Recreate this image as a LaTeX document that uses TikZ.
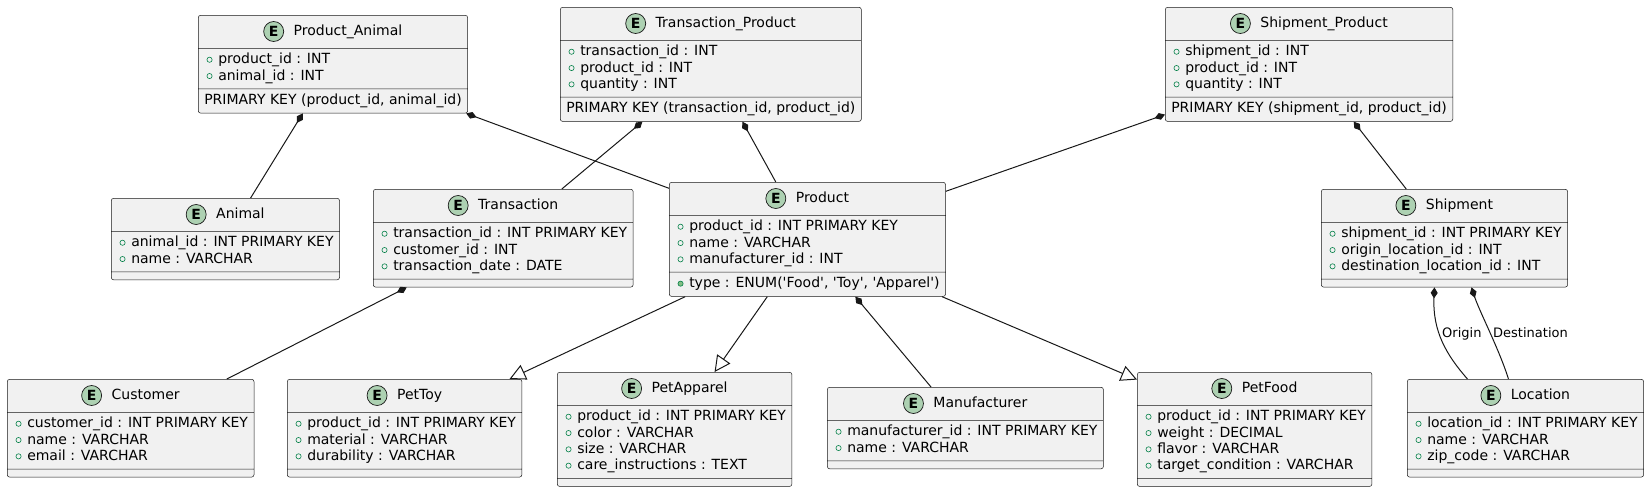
\documentclass[tikz,border=0pt]{standalone}
\usepackage{fontspec}
\newfontfamily\umlfont{DejaVu Sans}
\usepackage{tikz}
\usetikzlibrary{shapes.multipart,arrows.meta}

\definecolor{boxfill}{HTML}{F1F1F1}
\definecolor{boxline}{HTML}{181818}
\definecolor{iconfill}{HTML}{ADD1B2}
\definecolor{fieldgreen}{HTML}{038048}
\definecolor{methodfill}{HTML}{84BE84}

% one row of an entity: strut, then marker
\newcommand{\pk}{\rule[-4.8pt]{0pt}{16.3pt}}
\newcommand{\fld}{\pk\makebox[14pt][l]{\hspace{2.4pt}\tikz[baseline=-4pt]\draw[fieldgreen,line width=0.6pt] (0,0) circle (2.6pt);}}
\newcommand{\mth}{\pk\makebox[14pt][l]{\hspace{2.4pt}\tikz[baseline=-4pt]\filldraw[draw=fieldgreen,fill=methodfill,line width=0.6pt] (0,0) circle (2.6pt);}}
\newcommand{\ttl}[1]{\rule[-8.75pt]{0pt}{25pt}\hspace{30pt}#1}
\newcommand{\nomembers}{\rule{1pt}{0pt}}

\begin{document}
\begin{tikzpicture}[x=1pt,y=-1pt,
    entity/.style={rectangle split, rectangle split parts=3,
        rectangle split part align={center,left,left},
        rectangle split empty part height=0pt, rectangle split empty part depth=0pt,
        draw=boxline, line width=0.5pt, fill=boxfill, rounded corners=2.5pt,
        inner xsep=6pt, inner ysep=3.75pt, align=left, anchor=north west,
        font=\umlfont\fontsize{14}{16.3}\selectfont},
    eicon/.style={circle, draw=boxline, fill=iconfill, line width=0.7pt,
        minimum size=20pt, inner sep=0pt, font=\umlfont\bfseries\fontsize{14}{14}\selectfont},
    comp/.style={draw=boxline, line width=1pt, {Diamond[length=11pt,width=7pt]}-},
    gen/.style={draw=boxline, line width=1pt, -{Triangle[open,length=16pt,width=16pt]}},
    lbl/.style={font=\umlfont\fontsize{13}{15}\selectfont, inner sep=0pt, anchor=base west}]
    \useasboundingbox (0,0) rectangle (1647,490);

    %Entity: Product_Animal
    \node[entity] (productanimal) at (198,15) {\ttl{Product\_Animal}%
        \nodepart{two}\fld product\_id : INT\\\fld animal\_id : INT%
        \nodepart{three}\pk PRIMARY KEY (product\_id, animal\_id)};
    \node[eicon] (productanimal-e) at ([xshift=10pt,yshift=4pt]productanimal.one) {E};

    %Entity: Transaction_Product
    \node[entity] (transactionproduct) at (560,7) {\ttl{Transaction\_Product}%
        \nodepart{two}\fld transaction\_id : INT\\\fld product\_id : INT\\\fld quantity : INT%
        \nodepart{three}\pk PRIMARY KEY (transaction\_id, product\_id)};
    \node[eicon] (transactionproduct-e) at ([xshift=10pt,yshift=4pt]transactionproduct.one) {E};

    %Entity: Shipment_Product
    \node[entity] (shipmentproduct) at (1165,7) {\ttl{Shipment\_Product}%
        \nodepart{two}\fld shipment\_id : INT\\\fld product\_id : INT\\\fld quantity : INT%
        \nodepart{three}\pk PRIMARY KEY (shipment\_id, product\_id)};
    \node[eicon] (shipmentproduct-e) at ([xshift=10pt,yshift=4pt]shipmentproduct.one) {E};

    %Entity: Animal
    \node[entity] (animal) at (111,198) {\ttl{Animal}%
        \nodepart{two}\fld animal\_id : INT PRIMARY KEY\\\fld name : VARCHAR%
        \nodepart{three}\nomembers};
    \node[eicon] (animal-e) at ([xshift=10pt,yshift=4pt]animal.one) {E};

    %Entity: Transaction
    \node[entity] (transaction) at (373,189) {\ttl{Transaction}%
        \nodepart{two}\fld transaction\_id : INT PRIMARY KEY\\\fld customer\_id : INT\\\fld transaction\_date : DATE%
        \nodepart{three}\nomembers};
    \node[eicon] (transaction-e) at ([xshift=10pt,yshift=4pt]transaction.one) {E};

    %Entity: Product
    \node[entity] (product) at (669,182) {\ttl{Product}%
        \nodepart{two}\fld product\_id : INT PRIMARY KEY\\\fld name : VARCHAR\\\fld manufacturer\_id : INT%
        \nodepart{three}\mth type : ENUM('Food', 'Toy', 'Apparel')};
    \node[eicon] (product-e) at ([xshift=10pt,yshift=4pt]product.one) {E};

    %Entity: Shipment
    \node[entity] (shipment) at (1321,189) {\ttl{Shipment}%
        \nodepart{two}\fld shipment\_id : INT PRIMARY KEY\\\fld origin\_location\_id : INT\\\fld destination\_location\_id : INT%
        \nodepart{three}\nomembers};
    \node[eicon] (shipment-e) at ([xshift=10pt,yshift=4pt]shipment.one) {E};

    %Entity: Customer
    \node[entity] (customer) at (7,379) {\ttl{Customer}%
        \nodepart{two}\fld customer\_id : INT PRIMARY KEY\\\fld name : VARCHAR\\\fld email : VARCHAR%
        \nodepart{three}\nomembers};
    \node[eicon] (customer-e) at ([xshift=10pt,yshift=4pt]customer.one) {E};

    %Entity: PetToy
    \node[entity] (pettoy) at (287,379) {\ttl{PetToy}%
        \nodepart{two}\fld product\_id : INT PRIMARY KEY\\\fld material : VARCHAR\\\fld durability : VARCHAR%
        \nodepart{three}\nomembers};
    \node[eicon] (pettoy-e) at ([xshift=10pt,yshift=4pt]pettoy.one) {E};

    %Entity: PetApparel
    \node[entity] (petapparel) at (557,372) {\ttl{PetApparel}%
        \nodepart{two}\fld product\_id : INT PRIMARY KEY\\\fld color : VARCHAR\\\fld size : VARCHAR\\\fld care\_instructions : TEXT%
        \nodepart{three}\nomembers};
    \node[eicon] (petapparel-e) at ([xshift=10pt,yshift=4pt]petapparel.one) {E};

    %Entity: Manufacturer
    \node[entity] (manufacturer) at (827,387) {\ttl{Manufacturer}%
        \nodepart{two}\fld manufacturer\_id : INT PRIMARY KEY\\\fld name : VARCHAR%
        \nodepart{three}\nomembers};
    \node[eicon] (manufacturer-e) at ([xshift=10pt,yshift=4pt]manufacturer.one) {E};

    %Entity: PetFood
    \node[entity] (petfood) at (1137,372) {\ttl{PetFood}%
        \nodepart{two}\fld product\_id : INT PRIMARY KEY\\\fld weight : DECIMAL\\\fld flavor : VARCHAR\\\fld target\_condition : VARCHAR%
        \nodepart{three}\nomembers};
    \node[eicon] (petfood-e) at ([xshift=10pt,yshift=4pt]petfood.one) {E};

    %Entity: Location
    \node[entity] (location) at (1407,379) {\ttl{Location}%
        \nodepart{two}\fld location\_id : INT PRIMARY KEY\\\fld name : VARCHAR\\\fld zip\_code : VARCHAR%
        \nodepart{three}\nomembers};
    \node[eicon] (location-e) at ([xshift=10pt,yshift=4pt]location.one) {E};

    %Straight Lines: composition
    \draw[comp] (productanimal) -- (animal);
    \draw[comp] (productanimal) -- (product);
    \draw[comp] (transactionproduct) -- (transaction);
    \draw[comp] (transactionproduct) -- (product);
    \draw[comp] (shipmentproduct) -- (product);
    \draw[comp] (shipmentproduct) -- (shipment);
    \draw[comp] (transaction) -- (customer);
    \draw[comp] (product) -- (manufacturer);

    %Straight Lines: generalization
    \draw[gen] (product) -- (pettoy);
    \draw[gen] (product) -- (petapparel);
    \draw[gen] (product) -- (petfood);

    %Curve Lines: Shipment - Location
    \draw[comp] ([xshift=-10pt]shipment.south) .. controls +(-2,44) and +(-21,-24) .. ([xshift=-58pt]location.north);
    \draw[comp] ([xshift=27pt]shipment.south) .. controls +(8,24) and +(-9,-29) .. ([xshift=-17pt]location.north);

    % Text Node
    \node[lbl] (originlbl) at (1442,337) {Origin};
    % Text Node
    \node[lbl] (destinationlbl) at (1493,337) {Destination};
\end{tikzpicture}
\end{document}
